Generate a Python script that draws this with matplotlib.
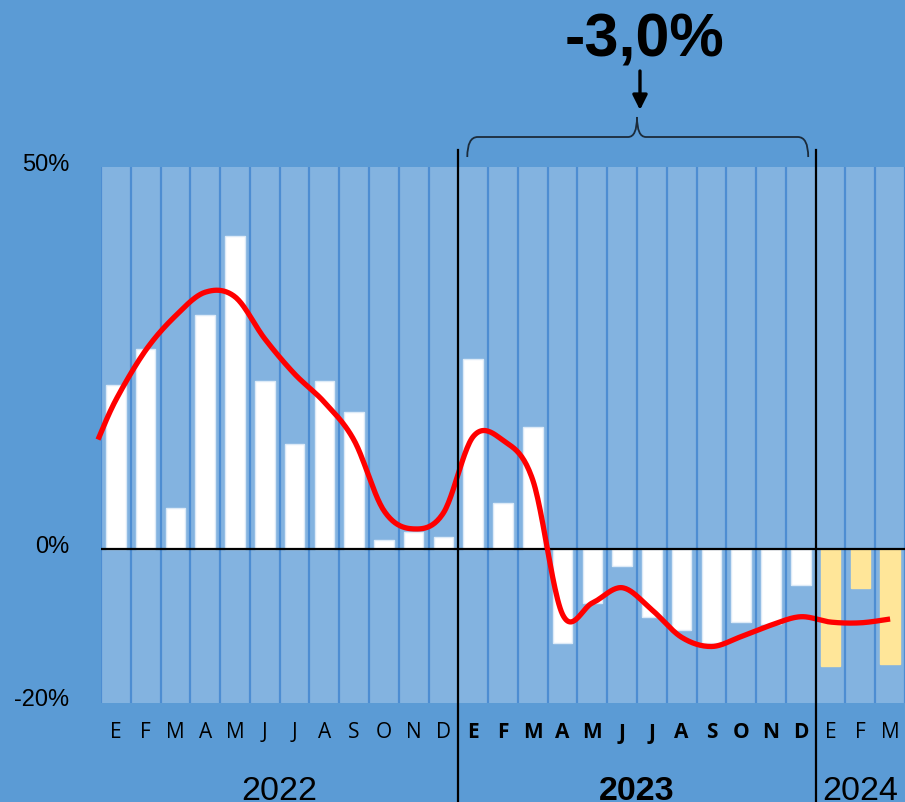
"""
Variation mensuelle 2022-2024 : barres + courbe lissée, annotation -3,0% sur 2023.
"""

import matplotlib
matplotlib.use('Agg')
import matplotlib.pyplot as plt
import numpy as np
from matplotlib.path import Path
from matplotlib.patches import PathPatch
from matplotlib.transforms import blended_transform_factory, ScaledTranslation

# Données
months = ['E', 'F', 'M', 'A', 'M', 'J', 'J', 'A', 'S', 'O', 'N', 'D'] * 2 + ['E', 'F', 'M']
years = ['2022', '2023', '2024']
months_per_year = [12, 12, 3]
bar_values = [21.5, 26.2, 5.4, 30.6, 41.0, 22.0, 13.7, 22.0, 17.9, 1.2, 2.2, 1.6,
              24.9, 6.0, 16.0, -12.4, -7.1, -2.2, -8.9, -10.6, -12.3, -9.6, -9.8, -4.7,
              -15.4, -5.2, -15.1]
trend_values = [19.5, 26.0, 30.5, 33.6, 33.0, 27.5, 22.9, 19.2, 14.2, 5.0, 2.6, 4.7,
                14.7, 14.2, 9.0, -8.6, -7.1, -5.1, -8.0, -11.6, -12.8, -11.5, -10.0, -8.9,
                -9.6, -9.7, -9.2]
trend_start = 14.3          # départ de la courbe, à gauche du premier mois
y_ticks = [-20, 0, 50]
y_tick_labels = ['-20%', '0%', '50%']
brace_label = '-3,0%'

BG = '#5B9BD5'
PLOT_BG = '#83B3E0'
SEP = '#4D8DD2'
BAR_COLORS = ['white', 'white', '#FFE699']


def smooth(x, y, n=24):
    """Courbe Catmull-Rom passant par les points (comme le lissage Excel)."""
    pts = np.column_stack([x, y]).astype(float)
    p = np.vstack([pts[0], pts, pts[-1]])
    out = []
    t = np.linspace(0, 1, n, endpoint=False)[:, None]
    for i in range(1, len(p) - 2):
        p0, p1, p2, p3 = p[i - 1], p[i], p[i + 1], p[i + 2]
        out.append(0.5 * (2 * p1 + (-p0 + p2) * t
                          + (2 * p0 - 5 * p1 + 4 * p2 - p3) * t ** 2
                          + (-p0 + 3 * p1 - 3 * p2 + p3) * t ** 3))
    out.append(pts[-1][None])
    return np.vstack(out)


fig = plt.figure(figsize=(9.05, 8.02), dpi=100, facecolor=BG)
ax = fig.add_axes([101 / 905, 1 - 703 / 802, 1 - 101 / 905, (703 - 167) / 802])
ax.set_facecolor(PLOT_BG)
for s in ax.spines.values():
    s.set_visible(False)

n = len(bar_values)
x = np.arange(n)
ax.set_xlim(-0.5, n - 0.5)
ax.set_ylim(-20.2, 50)

# séparateurs de colonnes
bounds = np.cumsum(months_per_year)[:-1] - 0.5
for b in np.arange(-0.5, n, 1.0):
    if b not in bounds:
        ax.axvline(b, color=SEP, lw=1.6, zorder=1)

# barres
colors = []
for c, k in zip(BAR_COLORS, months_per_year):
    colors += [c] * k
edges = ['#DCEAF7' if c == 'white' else c for c in colors]
ax.bar(x, bar_values, width=0.66, color=colors, edgecolor=edges, linewidth=1, zorder=2)

ax.axhline(0, color='black', lw=1.6, zorder=3)

# courbe lissée
cx = np.concatenate([[-0.6], x])
cy = np.concatenate([[trend_start], trend_values])
curve = smooth(cx, cy)
ax.plot(curve[:, 0], curve[:, 1], color='#FF0000', lw=3.8, zorder=4,
        solid_capstyle='butt', clip_on=False)

# axes y
ax.set_yticks(y_ticks)
ax.set_yticklabels(y_tick_labels, fontsize=17, family='Liberation Sans')
ax.tick_params(axis='y', length=0, pad=23)
shift = ScaledTranslation(0, 3 / 72, fig.dpi_scale_trans)
for lab in ax.get_yticklabels():
    lab.set_transform(lab.get_transform() + shift)
ax.set_xticks([])

trans = blended_transform_factory(ax.transData, fig.transFigure)

# séparateurs d'années
for b in bounds:
    ax.plot([b, b], [0, 1 - 150 / 802], color='black', lw=1.6, transform=trans,
            clip_on=False, zorder=5)

# étiquettes des mois et des années
start = 0
for yr, k in zip(years, months_per_year):
    weight = 'bold' if yr == '2023' else 'normal'
    for i in range(start, start + k):
        ax.text(i, 1 - 733 / 802, months[i], transform=trans, ha='center', va='center',
                fontsize=15, fontweight=weight, family='Open Sans')
    ax.text(start + (k - 1) / 2, 0.002, yr, transform=trans, ha='center', va='baseline',
            fontsize=24.5, fontweight=weight, family='Liberation Sans')
    start += k

# accolade sur 2023
x0, x1 = bounds[0] + 0.3, bounds[1] - 0.25
xm = (bounds[0] + bounds[1]) / 2
yb, ym, yt = 1 - 157 / 802, 1 - 137 / 802, 1 - 117 / 802
verts = [(x0, yb), (x0, ym), (x0 + 0.35, ym),
         (xm - 0.3, ym), (xm, ym), (xm, yt),
         (xm, ym), (xm + 0.3, ym),
         (x1 - 0.35, ym), (x1, ym), (x1, yb)]
codes = [Path.MOVETO, Path.CURVE3, Path.CURVE3,
         Path.LINETO, Path.CURVE3, Path.CURVE3,
         Path.CURVE3, Path.CURVE3,
         Path.LINETO, Path.CURVE3, Path.CURVE3]
ax.add_patch(PathPatch(Path(verts, codes), transform=trans, fill=False,
                       edgecolor='#1B2B3B', lw=1.3, clip_on=False, zorder=5))

ax.annotate('', xy=(xm + 0.1, 1 - 110 / 802), xytext=(xm + 0.1, 1 - 71 / 802),
            xycoords=trans, textcoords=trans,
            arrowprops=dict(arrowstyle='-|>', color='black', lw=2.4,
                            mutation_scale=22, shrinkA=0, shrinkB=0))
ax.text(xm + 0.25, 1 - 57 / 802, brace_label, transform=trans, ha='center',
        va='baseline', fontsize=44, fontweight='bold', family='Liberation Sans')

fig.savefig('out.png', dpi=100, facecolor=BG)
